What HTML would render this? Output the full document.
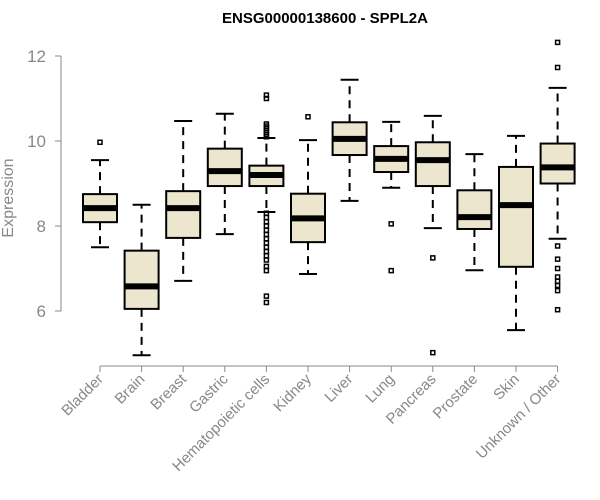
<!DOCTYPE html>
<html><head><meta charset="utf-8"><style>
body{margin:0;background:#fff;}
svg{display:block;font-family:"Liberation Sans",sans-serif;}
</style></head><body>
<svg id="chart" width="600" height="500">
<text x="325" y="23" text-anchor="middle" font-weight="bold" font-size="15">ENSG00000138600 - SPPL2A</text>
<text transform="translate(13,198) rotate(-90)" text-anchor="middle" font-size="16" fill="#888">Expression</text>
</svg>
<script>
const categories=["Bladder","Brain","Breast","Gastric","Hematopoietic cells","Kidney","Liver","Lung","Pancreas","Prostate","Skin","Unknown / Other"];
const whiskerLow=[7.5,4.96,6.71,7.81,8.33,6.87,8.59,8.9,7.95,6.96,5.55,7.7];
const q1=[8.09,6.05,7.72,8.94,8.94,7.62,9.67,9.27,8.94,7.93,7.04,9.0];
const median=[8.42,6.58,8.42,9.29,9.2,8.18,10.05,9.58,9.55,8.21,8.49,9.38];
const q3=[8.75,7.42,8.82,9.82,9.42,8.76,10.44,9.88,9.97,8.84,9.39,9.94];
const whiskerHigh=[9.55,8.5,10.47,10.64,10.07,10.02,11.44,10.45,10.59,9.69,10.12,11.25];
const outliers=[[9.97],[],[],[],[11.08,11.0,10.4,10.35,10.3,10.25,10.2,10.15,10.1,8.3,8.2,8.1,8.0,7.9,7.8,7.7,7.6,7.5,7.4,7.3,7.2,7.05,6.95,6.35,6.2],[10.57],[],[8.05,6.95],[7.25,5.02],[],[],[12.32,11.73,7.53,7.22,7.0,6.8,6.7,6.6,6.48,6.03]];
const yTicks=[6,8,10,12];
const ns="http://www.w3.org/2000/svg";
const svg=document.getElementById("chart");
const y=v=>311-(v-6)*42.5;
const x=i=>100+i*41.6;
const bw=34;
function mk(t,a){const e=document.createElementNS(ns,t);for(const k in a)e.setAttribute(k,a[k]);svg.appendChild(e);return e;}
let ax=mk("line",{x1:61,x2:61,y1:y(6),y2:y(12),stroke:"#888"});


yTicks.forEach(t=>{
 let l=mk("line",{x1:55,x2:61,y1:y(t),y2:y(t),stroke:"#888"});
 
 
 let tx=mk("text",{x:46,y:y(t)+6,"text-anchor":"end","font-size":17,fill:"#888"});
 tx.textContent=t;
 
 
});
let xa=mk("line",{x1:x(0),x2:x(11),y1:366,y2:366,stroke:"#888"});


categories.forEach((c,i)=>{
 const cx=x(i);
 let tk=mk("line",{x1:cx,x2:cx,y1:366,y2:372,stroke:"#888"});
 
 
 let tl=mk("text",{x:cx+4,y:380,"text-anchor":"end","font-size":15,fill:"#888",transform:`rotate(-45 ${cx+4} 380)`});
 tl.textContent=c;
 
 
 const g=document.createElementNS(ns,"g");svg.appendChild(g);
 
 
 const add=(t,a)=>{const e=document.createElementNS(ns,t);for(const k in a)e.setAttribute(k,a[k]);g.appendChild(e);return e;};
 add("line",{x1:cx,x2:cx,y1:y(q3[i]),y2:y(whiskerHigh[i]),stroke:"#000","stroke-width":2,"stroke-dasharray":"8,6"});
 add("line",{x1:cx,x2:cx,y1:y(q1[i]),y2:y(whiskerLow[i]),stroke:"#000","stroke-width":2,"stroke-dasharray":"8,6"});
 add("line",{x1:cx-9,x2:cx+9,y1:y(whiskerHigh[i]),y2:y(whiskerHigh[i]),stroke:"#000","stroke-width":2});
 add("line",{x1:cx-9,x2:cx+9,y1:y(whiskerLow[i]),y2:y(whiskerLow[i]),stroke:"#000","stroke-width":2});
 add("rect",{x:cx-bw/2,y:y(q3[i]),width:bw,height:y(q1[i])-y(q3[i]),fill:"#ede6cf",stroke:"#000","stroke-width":2});
 add("line",{x1:cx-bw/2,x2:cx+bw/2,y1:y(median[i]),y2:y(median[i]),stroke:"#000","stroke-width":6});
 outliers[i].forEach(v=>{add("rect",{x:cx-2,y:y(v)-2,width:4,height:4,fill:"none",stroke:"#000","stroke-width":1.5});});
});
</script>
</body></html>
